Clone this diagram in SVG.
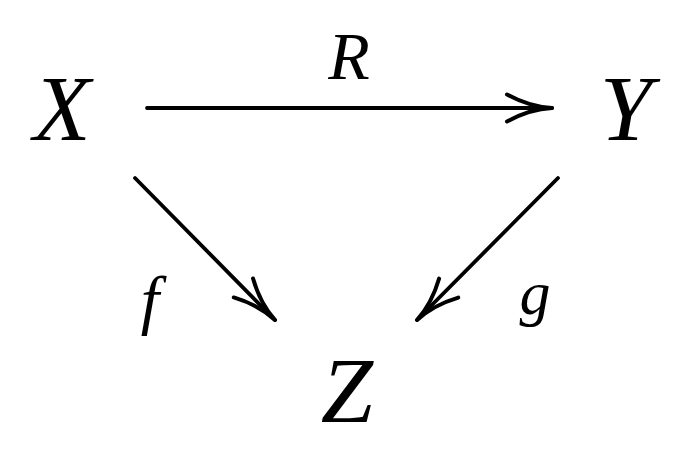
<svg xmlns="http://www.w3.org/2000/svg" width="700" height="461" viewBox="0 0 700 461">
<style>
text{font-family:'Liberation Serif',serif;font-style:italic;fill:#000;text-anchor:middle}
.big{font-size:94px}
.lbl{font-size:68px}
.edge{stroke:#000;stroke-width:3.8;stroke-linecap:round;fill:none}
</style>
<defs>
<marker id="ah" markerUnits="userSpaceOnUse" orient="auto" viewBox="-50 -20 60 40" refX="0" refY="0" markerWidth="60" markerHeight="40" overflow="visible">
<path d="M-45,-13.5 Q-22,-1 0,0 Q-22,1 -45,13.5" fill="none" stroke="#000" stroke-width="4" stroke-linecap="round" stroke-linejoin="round"/>
</marker>
</defs>
<rect width="700" height="461" fill="#fff"/>
<g id="connectors">
<line class="edge" x1="147" y1="108" x2="552" y2="108" marker-end="url(#ah)"/>
<line class="edge" x1="135" y1="178" x2="275" y2="320" marker-end="url(#ah)"/>
<line class="edge" x1="558" y1="178" x2="417" y2="320" marker-end="url(#ah)"/>
<text class="lbl" x="349" y="79">R</text>
<text class="lbl" x="150" y="322" style="font-size:66px">f</text>
<text class="lbl" x="535" y="314" style="font-size:62px">g</text>
</g>
<g id="node-X"><text class="big" x="62" y="140">X</text></g>
<g id="node-Y"><text class="big" x="626" y="140">Y</text></g>
<g id="node-Z"><text class="big" x="347" y="422">Z</text></g>
</svg>
